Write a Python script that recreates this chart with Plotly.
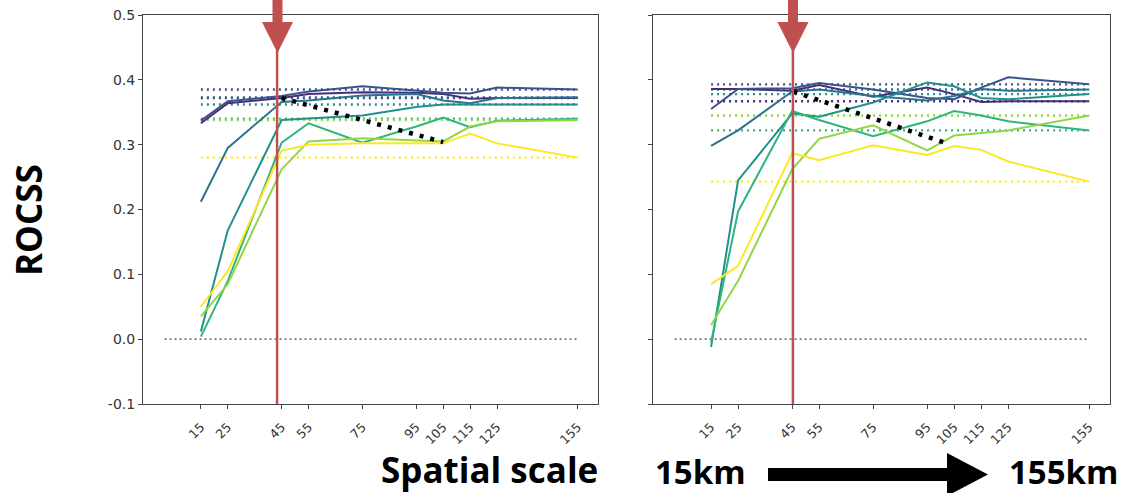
import plotly.graph_objects as go

W, H = 1124, 493

scales = [15, 25, 45, 55, 75, 95, 105, 115, 125, 155]
tick_vals = [15, 25, 45, 55, 75, 95, 105, 115, 125, 155]
tick_text = ["15", "25", "45", "55", "75", "95", "105", "115", "125", "155"]
y_ticks = [-0.1, 0.0, 0.1, 0.2, 0.3, 0.4, 0.5]
y_tick_text = ["-0.1", "0.0", "0.1", "0.2", "0.3", "0.4", "0.5"]

series_names = ["s1", "s2", "s3", "s4", "s5", "s6", "s7"]
series_colors = ["#472d7b", "#3b528b", "#2c728e", "#21918c", "#2fb47c", "#8fd744", "#fde725"]

# Left panel
left_purple = [0.333, 0.364, 0.372, 0.378, 0.381, 0.380, 0.378, 0.371, 0.372, 0.372]
left_darkblue = [0.337, 0.367, 0.375, 0.382, 0.390, 0.383, 0.380, 0.379, 0.388, 0.385]
left_blue = [0.212, 0.295, 0.366, 0.368, 0.376, 0.378, 0.368, 0.364, 0.372, 0.373]
left_teal = [0.012, 0.168, 0.338, 0.340, 0.345, 0.358, 0.362, 0.362, 0.362, 0.362]
left_green = [0.004, 0.090, 0.303, 0.333, 0.303, 0.328, 0.342, 0.327, 0.337, 0.340]
left_lightgreen = [0.035, 0.085, 0.262, 0.305, 0.310, 0.307, 0.305, 0.328, 0.336, 0.338]
left_yellow = [0.050, 0.105, 0.291, 0.300, 0.302, 0.302, 0.302, 0.317, 0.302, 0.280]

# Right panel
right_purple = [0.386, 0.386, 0.383, 0.392, 0.374, 0.388, 0.378, 0.366, 0.367, 0.367]
right_darkblue = [0.355, 0.386, 0.387, 0.395, 0.385, 0.372, 0.370, 0.388, 0.404, 0.393]
right_blue = [0.298, 0.322, 0.382, 0.385, 0.375, 0.368, 0.375, 0.386, 0.383, 0.385]
right_teal = [-0.012, 0.245, 0.348, 0.343, 0.365, 0.396, 0.390, 0.372, 0.370, 0.378]
right_green = [-0.005, 0.197, 0.352, 0.338, 0.313, 0.336, 0.352, 0.345, 0.336, 0.322]
right_lightgreen = [0.022, 0.090, 0.262, 0.309, 0.330, 0.291, 0.314, 0.318, 0.322, 0.345]
right_yellow = [0.085, 0.113, 0.287, 0.276, 0.299, 0.284, 0.298, 0.292, 0.274, 0.243]

left_series = [left_purple, left_darkblue, left_blue, left_teal, left_green, left_lightgreen, left_yellow]
right_series = [right_purple, right_darkblue, right_blue, right_teal, right_green, right_lightgreen, right_yellow]

trend_left_x = [45, 105]
trend_left_y = [0.372, 0.304]
trend_right_x = [45.5, 103]
trend_right_y = [0.382, 0.301]

zero_x = [1.5, 155]
zero_y = [0.0, 0.0]

marker_left_x = 43.3
marker_right_x = 45.3


def px_x(p):
    return p / W


def px_y(p):
    return 1 - p / H


fig = go.Figure()

for xa, ya, data in [("x", "y", left_series), ("x2", "y2", right_series)]:
    fig.add_trace(go.Scatter(x=zero_x, y=zero_y, mode="lines", xaxis=xa, yaxis=ya,
                             line=dict(color="#777777", width=1.6, dash="2px,3px"),
                             showlegend=False, hoverinfo="skip"))
    for vals, col in zip(data, series_colors):
        fig.add_trace(go.Scatter(x=[scales[0], scales[-1]], y=[vals[-1], vals[-1]], mode="lines",
                                 xaxis=xa, yaxis=ya,
                                 line=dict(color=col, width=2.4, dash="2px,4px"),
                                 showlegend=False, hoverinfo="skip"))
    for vals, col in zip(data, series_colors):
        fig.add_trace(go.Scatter(x=scales, y=vals, mode="lines", xaxis=xa, yaxis=ya,
                                 line=dict(color=col, width=2),
                                 showlegend=False))

fig.add_trace(go.Scatter(x=trend_left_x, y=trend_left_y, mode="lines", xaxis="x", yaxis="y",
                         line=dict(color="black", width=4.5, dash="4px,7px"), showlegend=False))
fig.add_trace(go.Scatter(x=trend_right_x, y=trend_right_y, mode="lines", xaxis="x2", yaxis="y2",
                         line=dict(color="black", width=4.5, dash="4px,7px"), showlegend=False))

ydom = [px_y(404), px_y(15)]
axis_common = dict(showgrid=False, zeroline=False, showline=True, mirror=True,
                   linecolor="#444444", linewidth=1, ticks="outside", ticklen=4,
                   tickcolor="#444444", tickwidth=1, automargin=False)

fig.update_layout(
    width=W, height=H,
    margin=dict(l=0, r=0, t=0, b=0, pad=0, autoexpand=False),
    paper_bgcolor="white", plot_bgcolor="white",
    showlegend=False,
    xaxis=dict(domain=[px_x(143), px_x(598)], range=[-6.5, 162.5], anchor="y",
               tickmode="array", tickvals=tick_vals, ticktext=tick_text, tickangle=-45,
               ticklabelstandoff=6,
               tickfont=dict(family="DejaVu Sans", size=12.5, color="#333333"), **axis_common),
    yaxis=dict(domain=ydom, range=[-0.1, 0.5], anchor="x",
               tickmode="array", tickvals=y_ticks, ticktext=y_tick_text,
               tickfont=dict(family="DejaVu Sans", size=14, color="#333333"), **axis_common),
    xaxis2=dict(domain=[px_x(653), px_x(1110)], range=[-6.5, 162.7], anchor="y2",
                tickmode="array", tickvals=tick_vals, ticktext=tick_text, tickangle=-45,
                ticklabelstandoff=6,
                tickfont=dict(family="DejaVu Sans", size=12.5, color="#333333"), **axis_common),
    yaxis2=dict(domain=ydom, range=[-0.1, 0.5], anchor="x2",
                tickmode="array", tickvals=y_ticks, showticklabels=False, **axis_common),
)

red = "#c0504d"
shapes = []
for xref, xv, cpx in [("x", marker_left_x, 277.5), ("x2", marker_right_x, 793)]:
    shapes.append(dict(type="line", xref=xref, yref="paper", x0=xv, x1=xv,
                       y0=px_y(404), y1=px_y(50), line=dict(color=red, width=2.5)))
    path = (f"M {px_x(cpx-5)} {px_y(0)} L {px_x(cpx+5)} {px_y(0)} L {px_x(cpx+5)} {px_y(22)} "
            f"L {px_x(cpx+15.5)} {px_y(22)} L {px_x(cpx)} {px_y(53)} L {px_x(cpx-15.5)} {px_y(22)} "
            f"L {px_x(cpx-5)} {px_y(22)} Z")
    shapes.append(dict(type="path", xref="paper", yref="paper", path=path,
                       fillcolor=red, line=dict(width=0)))

arrow = (f"M {px_x(768)} {px_y(468)} L {px_x(947)} {px_y(468)} L {px_x(947)} {px_y(453)} "
         f"L {px_x(988)} {px_y(474.5)} L {px_x(947)} {px_y(496)} L {px_x(947)} {px_y(481)} "
         f"L {px_x(768)} {px_y(481)} Z")
shapes.append(dict(type="path", xref="paper", yref="paper", path=arrow,
                   fillcolor="black", line=dict(width=0)))
fig.update_layout(shapes=shapes)

bold = dict(family="Open Sans", size=35, color="black")
bold_small = dict(family="Open Sans", size=33, color="black")
fig.add_annotation(x=px_x(29), y=px_y(220), xref="paper", yref="paper", text="<b>ROCSS</b>",
                   textangle=-90, showarrow=False, font=bold, xanchor="center", yanchor="middle")
fig.add_annotation(x=px_x(489), y=px_y(469), xref="paper", yref="paper", text="<b>Spatial scale</b>",
                   showarrow=False, font=bold, xanchor="center", yanchor="middle")
fig.add_annotation(x=px_x(700), y=px_y(471), xref="paper", yref="paper", text="<b>15km</b>",
                   showarrow=False, font=bold_small, xanchor="center", yanchor="middle")
fig.add_annotation(x=px_x(1063), y=px_y(471), xref="paper", yref="paper", text="<b>155km</b>",
                   showarrow=False, font=bold_small, xanchor="center", yanchor="middle")

fig.write_html("out.html")
